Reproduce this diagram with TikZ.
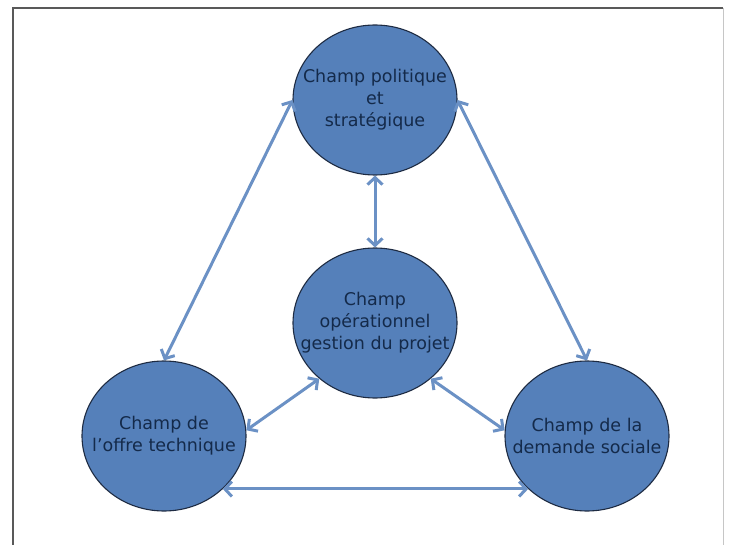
\documentclass[tikz,border=0pt]{standalone}
\usepackage{fontspec}
\setmainfont{DejaVu Sans}
\usepackage{xcolor}
\usepackage{tikz}
\usetikzlibrary{arrows.meta,shapes.geometric,positioning}
\definecolor{champfond}{HTML}{5580BA}
\definecolor{champbord}{HTML}{1E2B42}
\definecolor{champtexte}{HTML}{142A4A}
\definecolor{lienbleu}{HTML}{6B91C5}
\newcommand{\champat}[3]{\node[champ] (#1) at #2 {#3} ;}
\newcommand{\relier}[2]{\draw[lien] (#1)--(#2) ;}

\begin{document}
\begin{tikzpicture}[x=1pt,y=-1pt,
    champ/.style={ellipse,draw=champbord,line width=1.1pt,fill=champfond,
        minimum width=164pt,minimum height=150pt,inner xsep=-20pt,inner ysep=0pt,
        align=center,text=champtexte,font=\fontsize{17.5}{22}\selectfont},
    lien/.style={draw=lienbleu,line width=3pt,
        {Straight Barb[length=7pt,width=15pt]}-{Straight Barb[length=7pt,width=15pt]}}]
        \useasboundingbox (0,0) rectangle (730,545);
        \draw[gray!70!black,line width=2pt] (13,545) -- (13,8) -- (723,8);
        \draw[gray!45,line width=1pt] (723,8) -- (723,545);
        \champat{haut}{(375,100)}{Champ politique\\et\\stratégique}
        \champat{centre}{(375,323)}{Champ\\opérationnel\\gestion du projet}
        \champat{gauche}{(164,436)}{Champ de\\l’offre technique}
        \champat{droite}{(587,436)}{Champ de la\\demande sociale}
        \relier{haut.west}{gauche.north}
        \relier{haut.east}{droite.north}
        \relier{haut.south}{centre.north}
        \relier{centre.225}{gauche.4}
        \relier{centre.-45}{droite.176}
        \relier{gauche.-42}{droite.222}
    \end{tikzpicture}
\end{document}
